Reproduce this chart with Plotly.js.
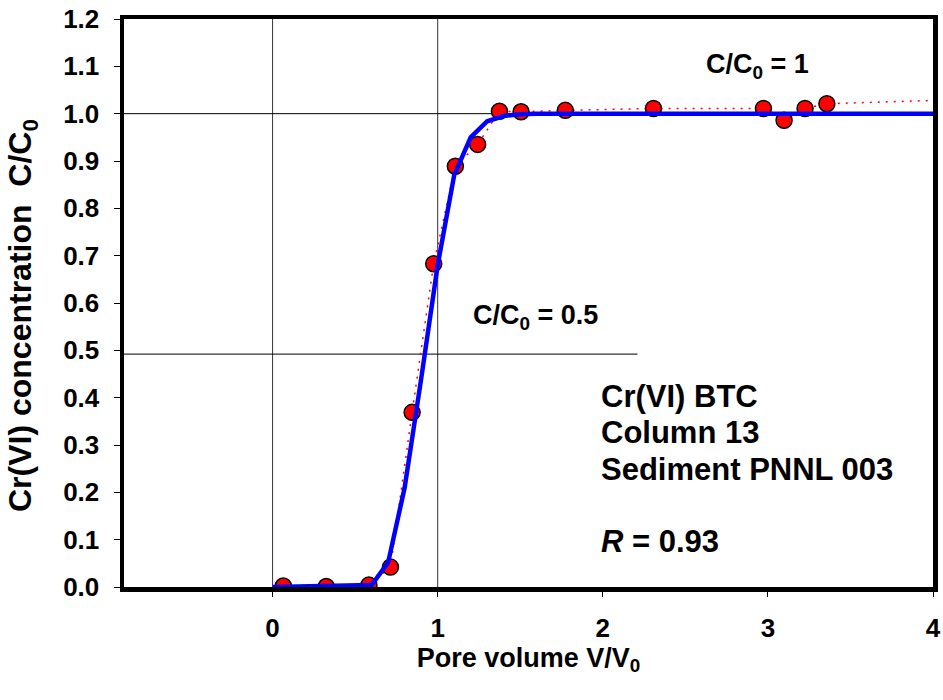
<!DOCTYPE html>
<html>
<head>
<meta charset="utf-8">
<script src="https://cdn.plot.ly/plotly-3.0.1.min.js"></script>
<style>html,body{margin:0;padding:0;background:#fff}#chart{width:943px;height:700px}</style>
</head>
<body>
<div id="chart"></div>
<script>
// Measured breakthrough data: pore volume V/V0 and relative concentration C/C0
const poreVolume = [0.065, 0.325, 0.583, 0.714, 0.845, 0.976, 1.107, 1.242, 1.374, 1.505, 1.773, 2.307, 2.973, 3.098, 3.225, 3.357];
const relConc    = [0.002, 0.001, 0.004, 0.042, 0.369, 0.683, 0.889, 0.935, 1.005, 1.004, 1.007, 1.011, 1.011, 0.986, 1.011, 1.021];
// dotted data-trend line extension to the right edge
const trendTailX = [4.0];
const trendTailY = [1.028];
// Fitted BTC model curve
const fitX = [0, 0.6, 0.7, 0.8, 0.9, 1.0, 1.1, 1.2, 1.3, 1.4, 1.5, 1.6, 4.0];
const fitY = [0, 0.004, 0.052, 0.21, 0.44, 0.68, 0.87, 0.95, 0.984, 0.995, 0.999, 1.0, 1.0];
// Reference lines
const refVLines = [0, 1];
const refFull = 1.0;
const refHalf = 0.492;
const refHalfEnd = 2.21;
// Axis ticks
const xTicks = [0, 1, 2, 3, 4];
const xTickText = ['0', '1', '2', '3', '4'];
const yTicks = [0, 0.1, 0.2, 0.3, 0.4, 0.5, 0.6, 0.7, 0.8, 0.9, 1.0, 1.1, 1.2];
const yTickText = ['0.0','0.1','0.2','0.3','0.4','0.5','0.6','0.7','0.8','0.9','1.0','1.1','1.2'];
const xRange = [-0.9, 4.0];
const yRange = [0, 1.2];
const infoLines = ['Cr(VI) BTC', 'Column 13', 'Sediment PNNL 003', '<i>R</i> = 0.93'];
const infoY = [0.403, 0.327, 0.249, 0.097];

const F = 'Arial, "Liberation Sans", sans-serif';

const traces = [
  {x: poreVolume.concat(trendTailX), y: relConc.concat(trendTailY), mode: 'lines',
   line: {color: '#FF0000', width: 1.5, dash: '2px,6px'}, hoverinfo: 'skip', showlegend: false},
  {x: poreVolume, y: relConc, mode: 'markers',
   marker: {color: '#FF0000', size: 16, line: {color: '#000', width: 1.5}}, showlegend: false},
  {x: fitX, y: fitY, mode: 'lines', line: {color: '#0000FF', width: 4.5}, showlegend: false}
];

const shapes = [];
refVLines.forEach(v => shapes.push({type: 'line', xref: 'x', yref: 'y', x0: v, x1: v, y0: yRange[0], y1: yRange[1],
  line: {color: '#333', width: 1}, layer: 'below'}));
shapes.push({type: 'line', xref: 'x', yref: 'y', x0: xRange[0], x1: xRange[1], y0: refFull, y1: refFull,
  line: {color: '#000', width: 1}, layer: 'below'});
shapes.push({type: 'line', xref: 'x', yref: 'y', x0: xRange[0], x1: refHalfEnd, y0: refHalf, y1: refHalf,
  line: {color: '#000', width: 1}, layer: 'below'});

const annotations = [
  {x: 2.94, y: 1.10, xref: 'x', yref: 'y', text: '<b>C/C<sub>0</sub> = 1</b>', showarrow: false,
   font: {family: F, size: 27, color: '#000'}, xanchor: 'center', yanchor: 'middle'},
  {x: 1.595, y: 0.57, xref: 'x', yref: 'y', text: '<b>C/C<sub>0</sub> = 0.5</b>', showarrow: false,
   font: {family: F, size: 27, color: '#000'}, xanchor: 'center', yanchor: 'middle'},
  {x: -0.1254, y: 0.478, xref: 'paper', yref: 'paper', text: '<b>Cr(VI) concentration  C/C<sub>0</sub></b>',
   showarrow: false, textangle: -90, xanchor: 'center', yanchor: 'middle',
   font: {family: F, size: 32, color: '#000'}}
];
infoLines.forEach((t, i) => annotations.push({x: 1.98, y: infoY[i], xref: 'x', yref: 'y', text: '<b>' + t + '</b>',
  showarrow: false, xanchor: 'left', yanchor: 'middle', align: 'left', font: {family: F, size: 31, color: '#000'}}));

const layout = {
  width: 943, height: 700,
  margin: {l: 123.5, r: 10, t: 18.5, b: 113},
  paper_bgcolor: '#fff', plot_bgcolor: '#fff',
  xaxis: {range: xRange, tickvals: xTicks, ticktext: xTickText, showgrid: false, zeroline: false,
    showline: true, mirror: true, linecolor: '#000', linewidth: 4.5,
    ticks: 'outside', ticklen: 5, tickwidth: 1, tickcolor: '#000', ticklabelstandoff: 9,
    tickfont: {family: F, size: 26, color: '#000', weight: 'bold'},
    title: {text: '<b>Pore volume V/V<sub>0</sub></b>', font: {family: F, size: 27, color: '#000'}, standoff: 4}},
  yaxis: {range: yRange, tickvals: yTicks, ticktext: yTickText, showgrid: false, zeroline: false,
    showline: true, mirror: true, linecolor: '#000', linewidth: 4.5,
    ticks: 'outside', ticklen: 6, tickwidth: 1, tickcolor: '#000', ticklabelstandoff: 9,
    tickfont: {family: F, size: 26, color: '#000', weight: 'bold'}},
  shapes: shapes,
  annotations: annotations
};

Plotly.newPlot('chart', traces, layout, {staticPlot: true, displayModeBar: false});
</script>
</body>
</html>
